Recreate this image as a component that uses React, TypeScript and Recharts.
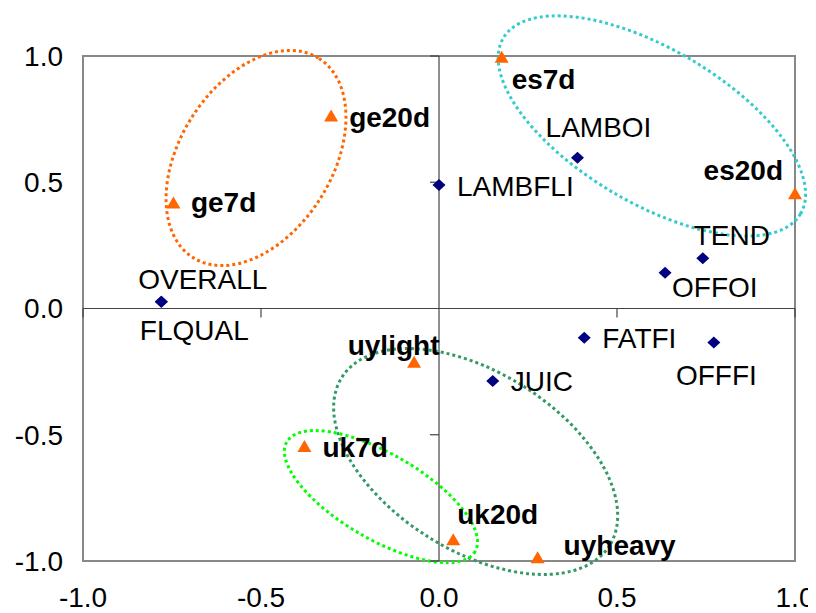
import React from 'react';
import {
  ScatterChart,
  Scatter,
  XAxis,
  YAxis,
  ReferenceArea,
  ReferenceLine,
  ReferenceDot,
} from 'recharts';

// Attribute points (diamonds)
const attributeNames = ['OVERALL', 'FLQUAL', 'LAMBFLI', 'LAMBOI', 'TEND', 'OFFOI', 'FATFI', 'OFFFI', 'JUIC'];
const attributeX = [-0.78, -0.78, 0.0, 0.389, 0.741, 0.635, 0.408, 0.772, 0.151];
const attributeY = [0.027, 0.027, 0.489, 0.597, 0.199, 0.142, -0.116, -0.135, -0.287];

// Sample points (triangles)
const sampleNames = ['es7d', 'es20d', 'ge20d', 'ge7d', 'uylight', 'uk7d', 'uk20d', 'uyheavy'];
const sampleX = [0.176, 1.0, -0.303, -0.746, -0.07, -0.378, 0.04, 0.277];
const sampleY = [0.997, 0.456, 0.764, 0.42, -0.211, -0.545, -0.914, -0.985];

// Axis ticks
const axisTicks = [-1, -0.5, 0, 0.5, 1];
const zeroLineTicks = [-1, -0.5, 0.5, 1];

// Group ellipses (data units)
const groupCenterX = [-0.514, 0.598, 0.103, -0.163];
const groupCenterY = [0.596, 0.723, -0.606, -0.745];
const groupRadiusX = [0.331, 0.485, 0.444, 0.306];
const groupRadiusY = [0.301, 0.305, 0.353, 0.169];
const groupTilt = [-57.7, 30.6, 32.1, 30.2];
const groupColors = ['#FF6600', '#33CCCC', '#339966', '#00FF00'];

// Label placement: [dx, dy(baseline), anchor]
const labelPlacement: Record<string, [number, number, string]> = {
  OVERALL: [41.5, -13, 'middle'],
  FLQUAL: [33, 38, 'middle'],
  LAMBFLI: [18, 10.5, 'start'],
  LAMBOI: [21, -20.5, 'middle'],
  TEND: [29, -13, 'middle'],
  OFFOI: [7, 24, 'start'],
  FATFI: [18, 10.5, 'start'],
  OFFFI: [2.5, 42, 'middle'],
  JUIC: [18, 10.5, 'start'],
  es7d: [10, 32.5, 'start'],
  es20d: [-12, -13, 'end'],
  ge20d: [18, 11, 'start'],
  ge7d: [17.5, 9.5, 'start'],
  uylight: [-20.5, -6.5, 'middle'],
  uk7d: [18, 10.5, 'start'],
  uk20d: [4, -15, 'start'],
  uyheavy: [26, -2.5, 'start'],
};

const FONT = '"Liberation Sans", Arial, sans-serif';

const attributeData = attributeNames.map((name, i) => ({ name, x: attributeX[i], y: attributeY[i] }));
const sampleData = sampleNames.map((name, i) => ({ name, x: sampleX[i], y: sampleY[i] }));

const Label = ({ cx, cy, name, bold }: any) => {
  const p = labelPlacement[name] || [18, 10, 'start'];
  return (
    <text
      x={cx + p[0]}
      y={cy + p[1]}
      textAnchor={p[2] as any}
      fontFamily={FONT}
      fontSize={28}
      fontWeight={bold ? 'bold' : 'normal'}
      fill="#000"
    >
      {name}
    </text>
  );
};

const DiamondShape = (props: any) => {
  const { cx, cy, payload } = props;
  const w = 6.5;
  const h = 6;
  return (
    <g>
      <path d={`M${cx},${cy - h}L${cx + w},${cy}L${cx},${cy + h}L${cx - w},${cy}Z`} fill="#000080" />
      <Label cx={cx} cy={cy} name={payload.name} bold={false} />
    </g>
  );
};

const TriangleShape = (props: any) => {
  const { cx, cy, payload } = props;
  const w = 7;
  const h = 6;
  return (
    <g>
      <path d={`M${cx},${cy - h}L${cx + w},${cy + h}L${cx - w},${cy + h}Z`} fill="#FF6600" />
      <Label cx={cx} cy={cy} name={payload.name} bold={true} />
    </g>
  );
};

const makeEllipse = (color: string, tilt: number) => (props: any) => {
  const { x, y, width, height } = props;
  const cx = x + width / 2;
  const cy = y + height / 2;
  return (
    <ellipse
      cx={cx}
      cy={cy}
      rx={Math.abs(width) / 2}
      ry={Math.abs(height) / 2}
      transform={`rotate(${tilt} ${cx} ${cy})`}
      fill="none"
      stroke={color}
      strokeWidth={3}
      strokeDasharray="3 3"
    />
  );
};

const BorderShape = (props: any) => {
  const { x, y, width, height } = props;
  return <rect x={x} y={y} width={width} height={height} fill="none" stroke="#888888" strokeWidth={2} />;
};

const HTick = (props: any) => {
  const { cx, cy } = props;
  return <line x1={cx} y1={cy} x2={cx} y2={cy + 9} stroke="#444" strokeWidth={1.2} />;
};
const VTick = (props: any) => {
  const { cx, cy } = props;
  return <line x1={cx - 9} y1={cy} x2={cx} y2={cy} stroke="#444" strokeWidth={1.2} />;
};

const fmt = (v: number) => v.toFixed(1);

export default function App() {
  return (
    <ScatterChart
      width={808}
      height={605}
      margin={{ top: 48, right: 21, bottom: 12, left: 15 }}
      style={{ fontFamily: FONT }}
    >
      <XAxis
        type="number"
        dataKey="x"
        domain={[-1, 1]}
        ticks={axisTicks}
        tickFormatter={fmt}
        axisLine={false}
        tickLine={false}
        tickSize={0}
        tickMargin={26}
        height={40}
        interval={0}
        tick={{ fontSize: 28, fill: '#000', fontFamily: FONT }}
      />
      <YAxis
        type="number"
        dataKey="y"
        domain={[-1, 1]}
        ticks={axisTicks}
        tickFormatter={fmt}
        axisLine={false}
        tickLine={false}
        tickSize={0}
        tickMargin={20}
        width={60}
        interval={0}
        tick={{ fontSize: 28, fill: '#000', fontFamily: FONT }}
      />
      <ReferenceArea x1={-1} x2={1} y1={-1} y2={1} ifOverflow="visible" shape={BorderShape} />
      <ReferenceLine x={0} stroke="#444" strokeWidth={1.2} ifOverflow="visible" />
      <ReferenceLine y={0} stroke="#444" strokeWidth={1.2} ifOverflow="visible" />
      {zeroLineTicks.map((v) => (
        <ReferenceDot key={'h' + v} x={v} y={0} ifOverflow="visible" shape={HTick} />
      ))}
      {zeroLineTicks.map((v) => (
        <ReferenceDot key={'v' + v} x={0} y={v} ifOverflow="visible" shape={VTick} />
      ))}
      <Scatter data={attributeData} shape={DiamondShape} isAnimationActive={false} />
      <Scatter data={sampleData} shape={TriangleShape} isAnimationActive={false} />
      {groupCenterX.map((cx, i) => (
        <ReferenceArea
          key={'g' + i}
          x1={cx - groupRadiusX[i]}
          x2={cx + groupRadiusX[i]}
          y1={groupCenterY[i] - groupRadiusY[i]}
          y2={groupCenterY[i] + groupRadiusY[i]}
          ifOverflow="visible"
          shape={makeEllipse(groupColors[i], groupTilt[i])}
        />
      ))}
    </ScatterChart>
  );
}
